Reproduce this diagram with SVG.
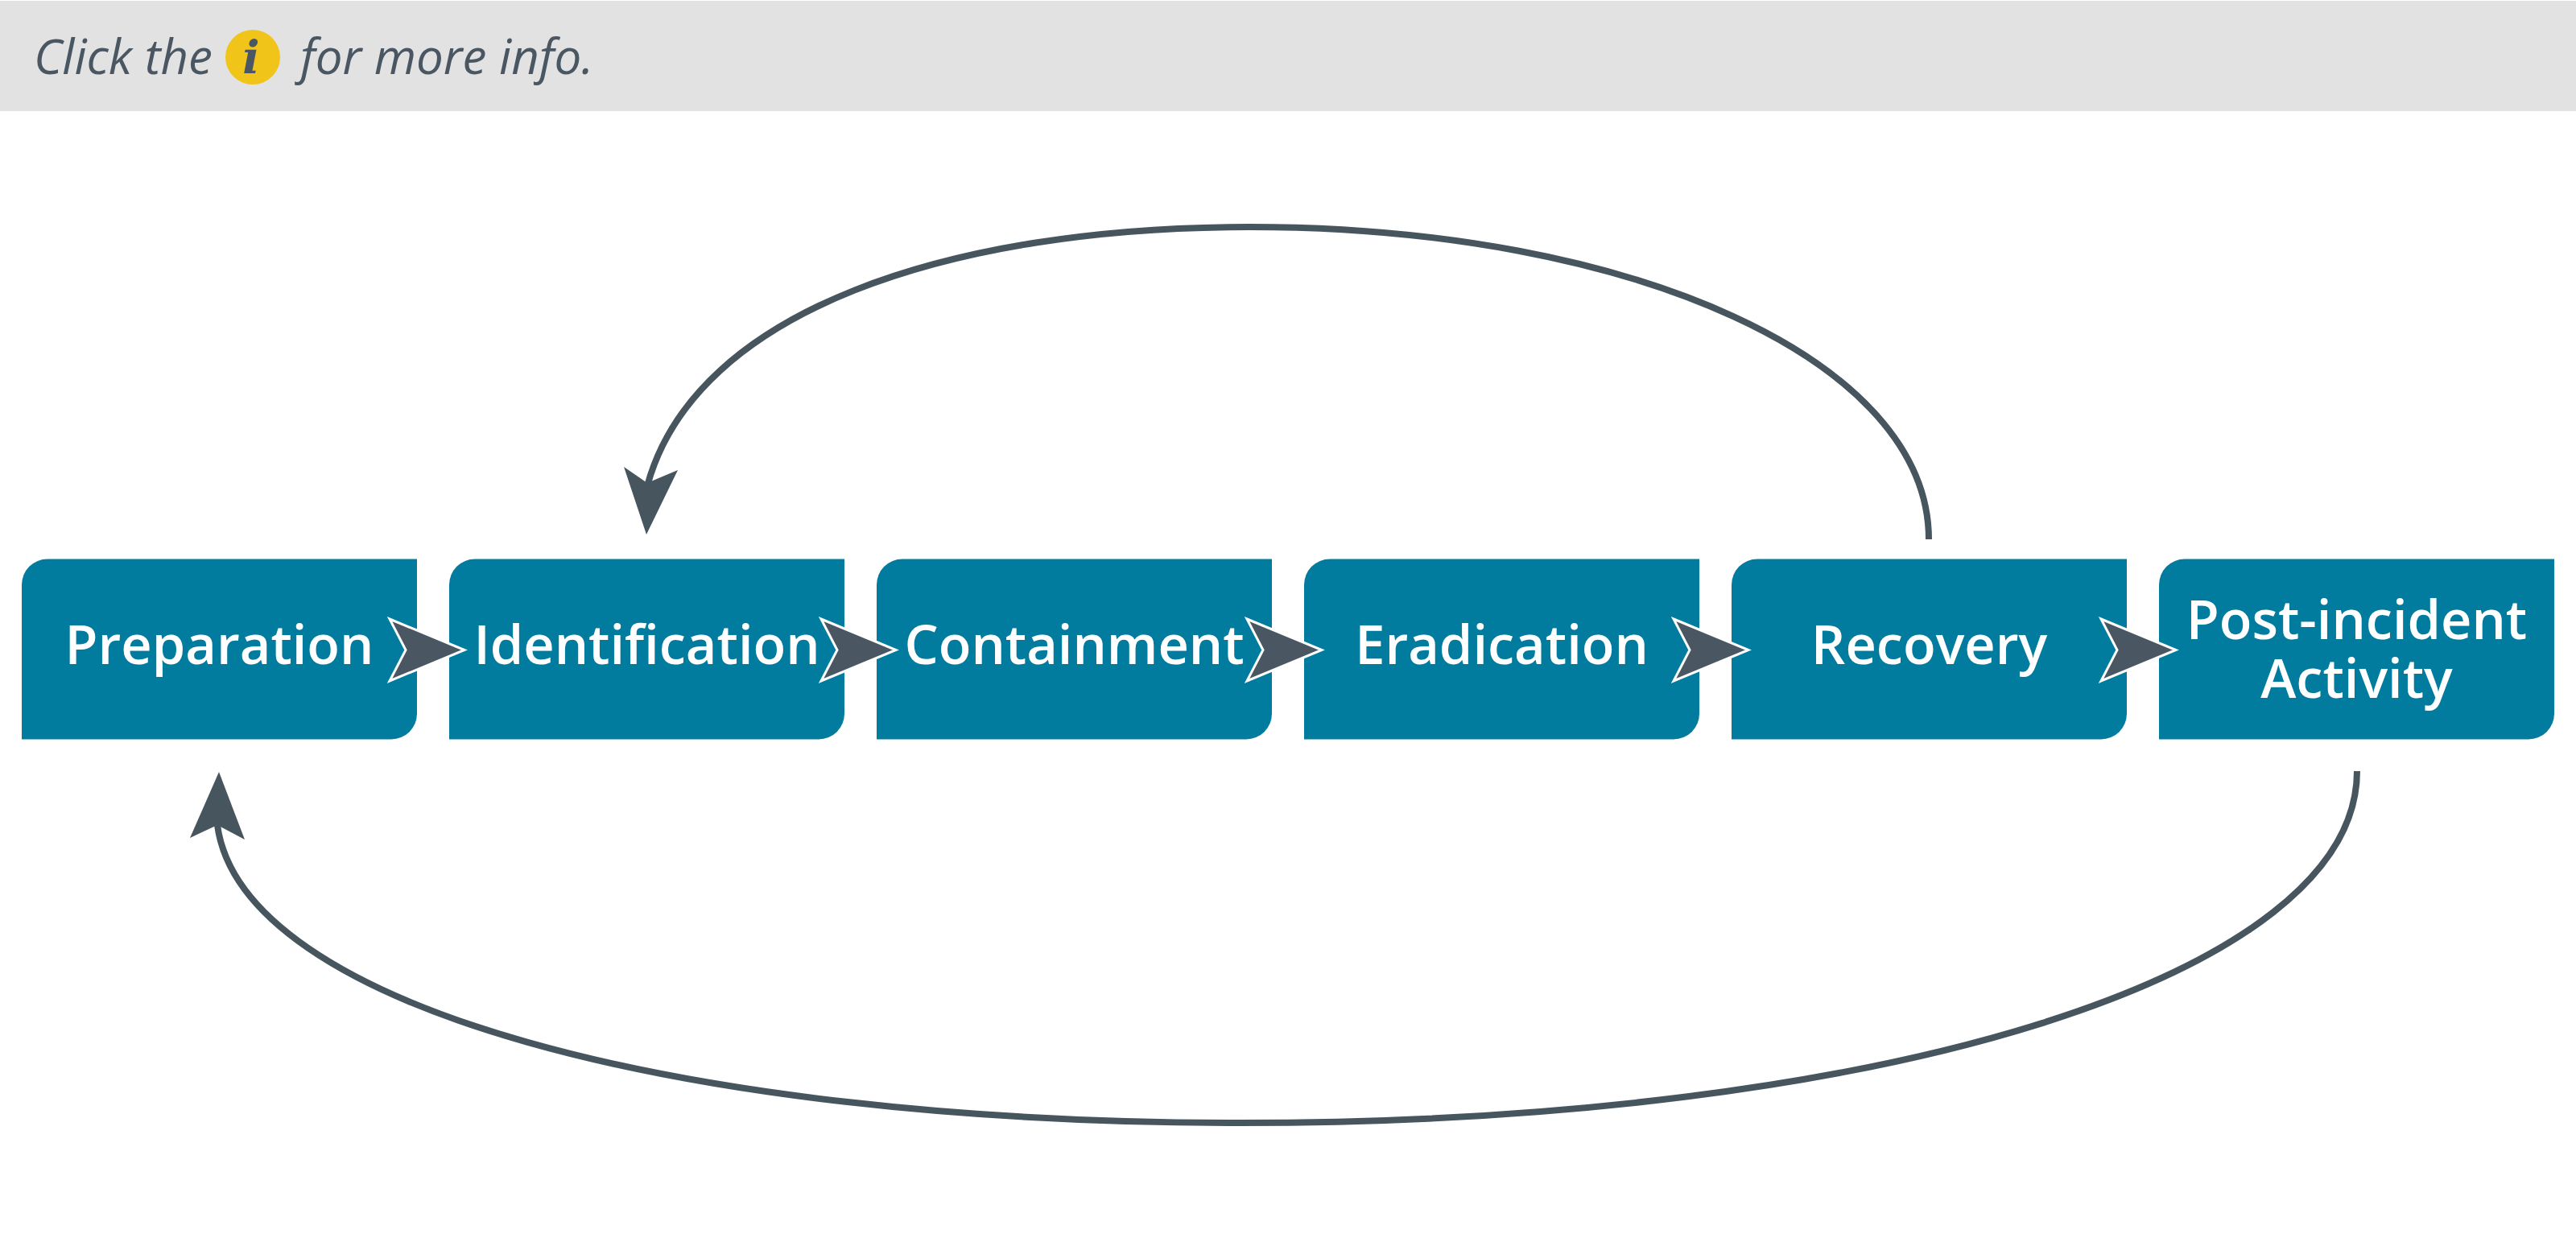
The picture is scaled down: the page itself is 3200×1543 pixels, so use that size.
<svg xmlns="http://www.w3.org/2000/svg" width="3200" height="1543" viewBox="0 0 3200 1543">
<style>
.box{fill:#017b9e}
.lbl{font-family:"Open Sans","Liberation Sans",sans-serif;font-weight:600;font-size:66.7px;fill:#fff;text-anchor:middle}
.hd{font-family:"Open Sans","Liberation Sans",sans-serif;font-style:italic;font-size:60px;fill:#4a5763}
.chev{fill:#4a5763;stroke:#fff;stroke-width:3;stroke-miterlimit:10}
.curve{fill:none;stroke:#47555f;stroke-width:8}
.head{fill:#47555f}
</style>
<defs>
<path id="b" class="box" d="M32 0H491V192A32 32 0 0 1 459 224H0V32A32 32 0 0 1 32 0Z"/>
<path id="c" class="chev" d="M3 3L96 41.500L3 80L23 41.500Z"/>
</defs>
<rect width="3200" height="1543" fill="#fff"/>
<g id="header">
<rect y="1" width="3200" height="137" fill="#e2e2e2"/>
<text class="hd" x="42" y="92">Click the</text>
<circle cx="314" cy="71" r="34" fill="#f0c419"/>
<text x="312" y="91" text-anchor="middle" style="font-family:'DejaVu Serif',serif;font-weight:700;font-style:italic;font-size:56px;fill:#4a5763">i</text>
<text class="hd" x="373" y="92">for more info.</text>
</g>
<g id="node-preparation"><use href="#b" x="27" y="694.500"/><text class="lbl" x="272.500" y="825">Preparation</text></g>
<g id="node-identification"><use href="#b" x="558" y="694.500"/><text class="lbl" x="803.500" y="825">Identification</text></g>
<g id="node-containment"><use href="#b" x="1089" y="694.500"/><text class="lbl" x="1334.500" y="825">Containment</text></g>
<g id="node-eradication"><use href="#b" x="1620" y="694.500"/><text class="lbl" x="1865.500" y="825">Eradication</text></g>
<g id="node-recovery"><use href="#b" x="2151" y="694.500"/><text class="lbl" x="2396.500" y="825">Recovery</text></g>
<g id="node-post-incident"><use href="#b" x="2682" y="694.500"/><text class="lbl" x="2927.500" y="793.500">Post-incident</text><text class="lbl" x="2927.500" y="867">Activity</text></g>
<g id="connectors">
<use href="#c" x="481" y="766"/>
<use href="#c" x="1017" y="766"/>
<use href="#c" x="1546" y="766"/>
<use href="#c" x="2076" y="766"/>
<use href="#c" x="2607" y="766"/>
<path class="curve" d="M2396 670C2396 449 2030 282 1552 282C1180 282 865 385 804.500 602"/>
<path class="head" d="M803 664L775 580L804 600L842 584Z"/>
<path class="curve" d="M2928 958C2928 1211 2345 1395 1540 1395C840 1395 300 1250 270 1025"/>
<path class="head" d="M272 959L236 1041L270 1025L304 1043Z"/>
</g>
</svg>
